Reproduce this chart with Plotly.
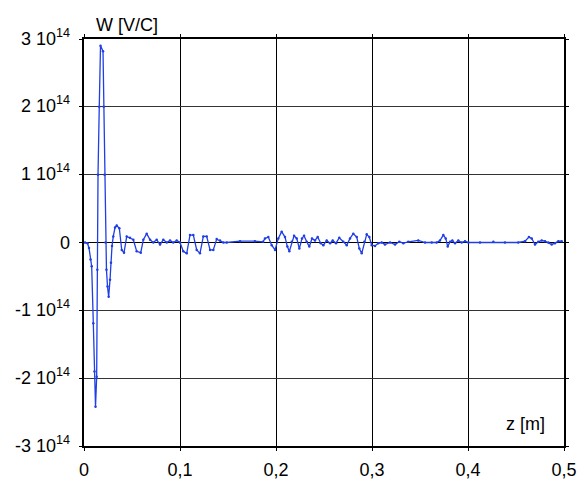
import plotly.graph_objects as go

# z position [m]
z = [0.0010, 0.0036, 0.0052, 0.0068, 0.0080, 0.0097, 0.0109, 0.0120, 0.0132, 0.0139,
     0.0146, 0.0159, 0.0172, 0.0198, 0.0206, 0.0214, 0.0224, 0.0234, 0.0245, 0.0257,
     0.0271, 0.0281, 0.0292, 0.0305, 0.0323, 0.0341, 0.0368, 0.0393, 0.0417, 0.0445,
     0.0479, 0.0514, 0.0549, 0.0591, 0.0618, 0.0653, 0.0688, 0.0722, 0.0757, 0.0792,
     0.0826, 0.0862, 0.0896, 0.0930, 0.0966, 0.1000, 0.1034, 0.1070, 0.1104, 0.1139,
     0.1174, 0.1208, 0.1243, 0.1278, 0.1313, 0.1347, 0.1382, 0.1417, 0.1451, 0.1487,
     0.1625, 0.1780, 0.1865, 0.1885, 0.1920, 0.1955, 0.1990, 0.2024, 0.2059, 0.2094,
     0.2118, 0.2139, 0.2164, 0.2188, 0.2216, 0.2243, 0.2271, 0.2292, 0.2320, 0.2347,
     0.2375, 0.2406, 0.2434, 0.2466, 0.2493, 0.2528, 0.2563, 0.2591, 0.2625, 0.2659,
     0.2701, 0.2737, 0.2771, 0.2805, 0.2841, 0.2868, 0.2893, 0.2920, 0.2945, 0.2972,
     0.2997, 0.3031, 0.3066, 0.3101, 0.3135, 0.3188, 0.3240, 0.3284, 0.3326, 0.3378,
     0.3482, 0.3552, 0.3622, 0.3674, 0.3708, 0.3743, 0.3768, 0.3789, 0.3813, 0.3837,
     0.3865, 0.3899, 0.3934, 0.3969, 0.4003, 0.4125, 0.4264, 0.4385, 0.4524, 0.4594,
     0.4635, 0.4664, 0.4698, 0.4732, 0.4768, 0.4802, 0.4837, 0.4872, 0.4906, 0.4941,
     0.4976]

# Wake potential W in units of 1e14 V/C
W_e14 = [0.00, -0.01, -0.08, -0.25, -0.35, -1.19, -1.90, -2.42, -1.98, -0.40,
         1.00, 2.00, 2.90, 2.82, 2.00, 1.00, 0.00, -0.40, -0.65, -0.80,
         -0.55, -0.30, -0.05, 0.09, 0.22, 0.25, 0.21, -0.11, -0.15, 0.09,
         0.07, 0.04, -0.13, -0.15, 0.04, 0.13, 0.04, 0.00, 0.04, -0.03,
         0.04, 0.00, 0.03, 0.00, 0.03, 0.00, -0.13, -0.16, 0.11, 0.11,
         -0.11, -0.16, 0.09, 0.09, -0.11, -0.11, 0.05, 0.03, 0.00, 0.00,
         0.02, 0.02, 0.01, 0.06, 0.08, -0.04, -0.11, 0.06, 0.16, 0.08,
         -0.06, -0.13, 0.01, 0.10, 0.06, -0.09, 0.06, 0.10, 0.01, -0.06,
         0.06, 0.03, 0.08, -0.01, -0.04, 0.03, -0.01, 0.03, -0.01, 0.07,
         0.01, -0.04, 0.06, 0.13, 0.08, -0.09, -0.16, 0.01, 0.12, 0.08,
         -0.04, -0.05, -0.01, 0.00, -0.03, 0.00, -0.03, 0.01, -0.01, 0.01,
         0.03, 0.00, 0.00, 0.00, 0.03, 0.11, 0.06, -0.06, 0.01, 0.03,
         -0.01, 0.03, 0.00, 0.02, 0.00, 0.00, 0.01, 0.00, 0.00, 0.02,
         0.08, 0.06, -0.03, 0.01, 0.03, 0.02, 0.00, -0.03, -0.01, 0.02,
         0.02]

SCALE = 1e14
W = [v * SCALE for v in W_e14]

x_tickvals = [0, 0.1, 0.2, 0.3, 0.4, 0.5]
x_ticktext = ["0", "0,1", "0,2", "0,3", "0,4", "0,5"]
y_tickvals = [-3e14, -2e14, -1e14, 0, 1e14, 2e14, 3e14]
y_ticktext = ["-3 10<sup>14</sup>", "-2 10<sup>14</sup>", "-1 10<sup>14</sup>", "0",
              "1 10<sup>14</sup>", "2 10<sup>14</sup>", "3 10<sup>14</sup>"]

FONT = "Liberation Sans, Arial, sans-serif"
FS = 18

fig = go.Figure()
fig.add_trace(go.Scatter(
    x=z, y=W, mode="lines+markers",
    line=dict(color="#1f3ee6", width=1.3),
    marker=dict(color="#1f3ee6", size=2.5),
    showlegend=False,
))

# y tick labels as annotations so that superscripts align exactly
ylabel_annotations = [
    dict(text=t, xref="paper", yref="y", x=0, y=v, xanchor="right",
         yanchor="middle", xshift=-12, yshift=(0 if t == "0" else 2),
         showarrow=False, font=dict(family=FONT, size=FS, color="black"))
    for v, t in zip(y_tickvals, y_ticktext)
]

fig.update_layout(
    width=577, height=481,
    margin=dict(l=84, r=13, t=39, b=35, autoexpand=False),
    paper_bgcolor="white", plot_bgcolor="white",
    font=dict(family=FONT, size=FS, color="black"),
    xaxis=dict(
        range=[0, 0.5], tickvals=x_tickvals, ticktext=x_ticktext,
        showgrid=True, gridcolor="black", gridwidth=1,
        showline=True, linecolor="black", linewidth=1.5, mirror="ticks",
        ticks="outside", ticklen=3, tickcolor="black",
        zeroline=False, ticklabelstandoff=4,
    ),
    yaxis=dict(
        range=[-3e14, 3e14], tickvals=y_tickvals, showticklabels=False,
        showgrid=True, gridcolor="#333333", gridwidth=1,
        showline=True, linecolor="black", linewidth=1.5, mirror="ticks",
        ticks="outside", ticklen=3, tickcolor="black",
        zeroline=True, zerolinecolor="black", zerolinewidth=1,
    ),
    annotations=ylabel_annotations + [
        dict(text="W [V/C]", xref="paper", yref="paper", x=0.02, y=1.0,
             xanchor="left", yanchor="bottom", yshift=2, showarrow=False,
             font=dict(family=FONT, size=FS, color="black")),
        dict(text="z [m]", xref="paper", yref="paper", x=0.964, y=0.0,
             xanchor="right", yanchor="bottom", yshift=10, showarrow=False,
             font=dict(family=FONT, size=FS, color="black")),
    ],
)

fig.write_html(
    "out.html",
    config={"displayModeBar": False},
    post_script="document.body.style.margin='0';document.body.style.overflow='hidden';",
)
